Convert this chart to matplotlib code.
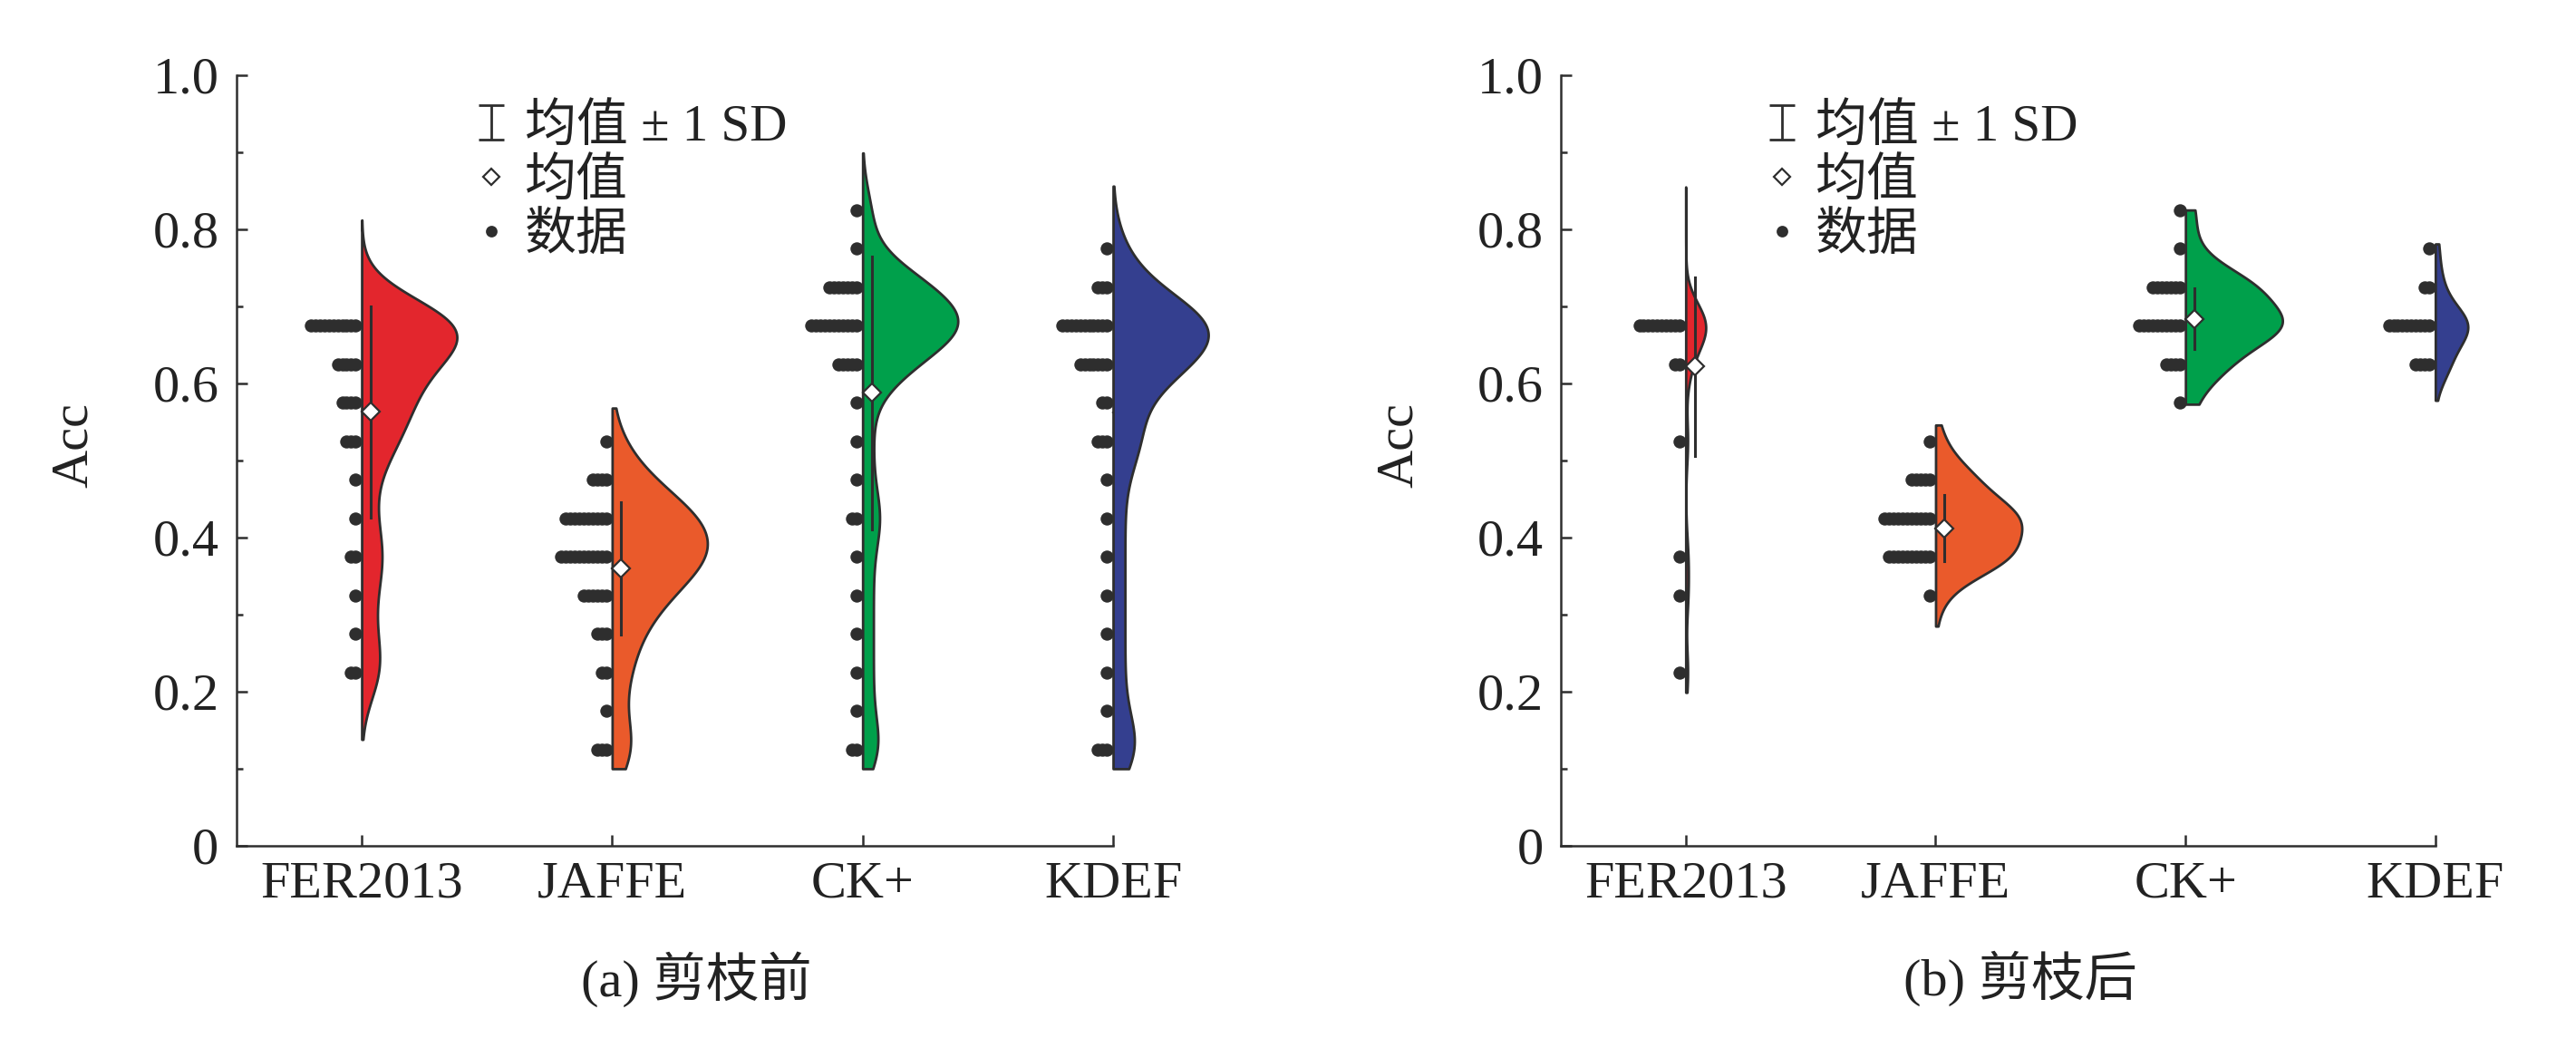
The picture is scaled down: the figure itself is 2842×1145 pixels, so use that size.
import numpy as np
import matplotlib
matplotlib.use('Agg')
import matplotlib.pyplot as plt
from matplotlib.lines import Line2D
from matplotlib.path import Path
from matplotlib.ticker import FuncFormatter, MultipleLocator

plt.rcParams['font.family'] = ['Liberation Serif', 'Noto Sans CJK SC']

datasets = ['FER2013', 'JAFFE', 'CK+', 'KDEF']
colors = ['#E3262D', '#EA5A2B', '#00A04B', '#343F8F']
dark = '#2E2E2E'

# centres of the 0.05 wide bins the data dots are stacked in
bins = [0.125, 0.175, 0.225, 0.275, 0.325, 0.375, 0.425, 0.475,
        0.525, 0.575, 0.625, 0.675, 0.725, 0.775, 0.825]

# dots per bin, (a) before pruning
fer_a = [0, 0, 2, 1, 1, 2, 1, 1, 3, 4, 5, 11, 0, 0, 0]
jaffe_a = [3, 1, 2, 3, 6, 11, 10, 4, 1, 0, 0, 0, 0, 0, 0]
ck_a = [2, 1, 1, 1, 1, 1, 2, 1, 1, 1, 5, 11, 7, 1, 1]
kdef_a = [3, 1, 1, 1, 1, 1, 1, 1, 3, 2, 7, 11, 3, 1, 0]
# dots per bin, (b) after pruning
fer_b = [0, 0, 1, 0, 1, 1, 0, 0, 1, 0, 2, 10, 0, 0, 0]
jaffe_b = [0, 0, 0, 0, 1, 10, 11, 5, 1, 0, 0, 0, 0, 0, 0]
ck_b = [0, 0, 0, 0, 0, 0, 0, 0, 0, 1, 4, 10, 7, 1, 1]
kdef_b = [0, 0, 0, 0, 0, 0, 0, 0, 0, 0, 4, 10, 2, 1, 0]

# mean and SD
mean_a = [0.563, 0.360, 0.588, 0.562]
sd_a = [0.137, 0.086, 0.177, 0.164]
mean_b = [0.622, 0.412, 0.684, 0.671]
sd_b = [0.116, 0.043, 0.039, 0.026]

# violin extent, peak half-width and kde bandwidth
lo_a = [0.138, 0.100, 0.100, 0.100]
hi_a = [0.812, 0.568, 0.899, 0.856]
peak_a = [0.38, 0.38, 0.38, 0.38]
bw_a = [0.040, 0.038, 0.035, 0.040]
lo_b = [0.199, 0.285, 0.573, 0.578]
hi_b = [0.855, 0.546, 0.825, 0.781]
peak_b = [0.08, 0.345, 0.388, 0.13]
bw_b = [0.030, 0.028, 0.028, 0.026]

# "I" shaped symbol for the mean +- SD legend entry
ibar = Path([(-0.35, -0.5), (0.35, -0.5), (0, -0.5), (0, 0.5), (-0.35, 0.5), (0.35, 0.5)],
            [Path.MOVETO, Path.LINETO, Path.MOVETO, Path.LINETO, Path.MOVETO, Path.LINETO])


def kde(vals, grid, bw):
    z = (grid[:, None] - vals[None, :]) / bw
    return np.exp(-0.5 * z ** 2).sum(axis=1)


def draw_panel(ax, counts, means, sds, lo, hi, peak, bws, caption, cap_x, leg_x):
    for i in range(len(datasets)):
        vals = np.repeat(bins, counts[i])
        y = np.linspace(lo[i], hi[i], 400)
        d = kde(vals, y, bws[i])
        d = d / d.max() * peak[i]
        ax.fill_betweenx(y, i, i + d, facecolor=colors[i], edgecolor=dark,
                         linewidth=1.0, zorder=2, clip_on=False)
        for b, n in zip(bins, counts[i]):
            xs = i - 0.024 - 0.018 * np.arange(n)
            ax.scatter(xs, [b] * n, s=27, color=dark, linewidths=0, zorder=3)
        ax.plot([i + 0.036] * 2, [means[i] - sds[i], means[i] + sds[i]],
                color=dark, lw=1.1, zorder=4)
        ax.plot(i + 0.036, means[i], marker='D', ms=5.2, mfc='white',
                mec=dark, mew=0.8, zorder=5)

    ax.set_xlim(-0.5, 3)
    ax.set_ylim(0, 1.0)
    ax.set_xticks(range(len(datasets)))
    ax.set_xticklabels(datasets)
    ax.yaxis.set_major_locator(MultipleLocator(0.2))
    ax.yaxis.set_minor_locator(MultipleLocator(0.1))
    ax.yaxis.set_major_formatter(FuncFormatter(lambda v, p: '0' if v == 0 else '%.1f' % v))
    for s in ['top', 'right']:
        ax.spines[s].set_visible(False)
    for s in ['left', 'bottom']:
        ax.spines[s].set_color(dark)
        ax.spines[s].set_linewidth(0.9)
    ax.tick_params(direction='in', length=4.3, width=0.9, colors=dark,
                   labelsize=21, labelcolor='#222222')
    ax.tick_params(axis='y', pad=7)
    ax.tick_params(axis='x', pad=6)
    ax.tick_params(which='minor', direction='in', length=2.5, width=0.9, colors=dark)
    ax.set_ylabel('Acc', fontsize=21, va='center', color='#222222')
    ax.yaxis.set_label_coords(-0.185, 0.52)

    handles = [
        Line2D([], [], ls='none', marker=ibar, ms=14, mew=1.0, color=dark),
        Line2D([], [], ls='none', marker='D', ms=4.5, mfc='white', mec=dark, mew=0.8),
        Line2D([], [], ls='none', marker='o', ms=3.6, color=dark),
    ]
    ax.legend(handles, ['均值 ± 1 SD', '均值', '数据'], loc='upper left',
              bbox_to_anchor=(leg_x, 0.963), frameon=False, borderpad=0,
              borderaxespad=0, handlelength=0.6, handletextpad=0.35,
              labelspacing=0.12, fontsize=20.5, labelcolor='#222222')
    ax.figure.text(cap_x, 0.057, caption, ha='center', va='center',
                   fontsize=21, color='#222222')


fig = plt.figure(figsize=(14.21, 5.725), dpi=200)
ax1 = fig.add_axes([0.0918, 0.1852, 0.3403, 0.7424])
ax2 = fig.add_axes([0.6059, 0.1852, 0.3395, 0.7424])

draw_panel(ax1, [fer_a, jaffe_a, ck_a, kdef_a], mean_a, sd_a, lo_a, hi_a, peak_a, bw_a,
           '(a) 剪枝前', 0.2702, 0.273)
draw_panel(ax2, [fer_b, jaffe_b, ck_b, kdef_b], mean_b, sd_b, lo_b, hi_b, peak_b, bw_b,
           '(b) 剪枝后', 0.7843, 0.235)

fig.savefig('out.png', dpi=200)
